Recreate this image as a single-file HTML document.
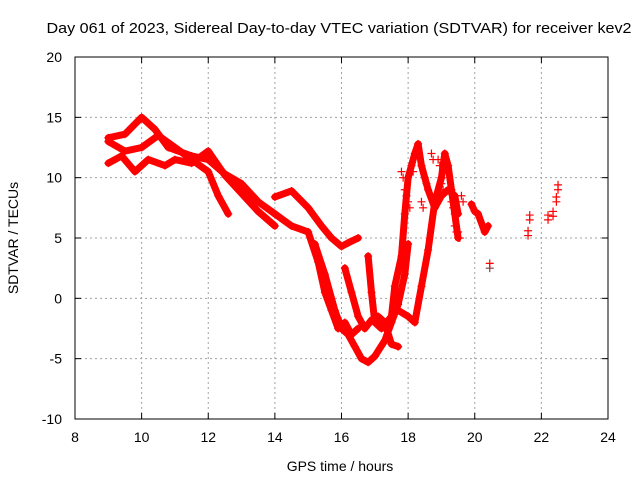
<!DOCTYPE html>
<html><head><meta charset="utf-8"><style>
body{margin:0;background:#fff;}
svg{display:block;font-family:"Liberation Sans",sans-serif;}
</style></head><body>
<svg id="chart" width="640" height="480">
<rect x="0" y="0" width="640" height="480" fill="#fff"/>
<text x="339" y="33" font-size="15" textLength="585" lengthAdjust="spacingAndGlyphs" text-anchor="middle" fill="#000">Day 061 of 2023, Sidereal Day-to-day VTEC variation (SDTVAR) for receiver kev2</text>
<text x="340" y="471" font-size="14" text-anchor="middle">GPS time / hours</text>
<text transform="translate(18,238) rotate(-90)" font-size="14" text-anchor="middle">SDTVAR / TECUs</text>
<g id="grid"></g><g id="ticks"></g><g id="series"></g>
<rect x="75" y="57" width="533" height="362" fill="none" stroke="#000" stroke-width="1"/>
</svg>
<script>
const xTicks=[8,10,12,14,16,18,20,22,24];
const yTicks=[-10,-5,0,5,10,15,20];
const trackA=[[9.0,13.3],[9.5,13.6],[10.0,15.0],[10.4,14.0],[10.8,12.5],[11.5,11.8],[12.0,11.5],[12.5,10.3],[13.0,9.5],[13.5,8.0],[14.0,7.0]];
const trackB=[[9.0,11.2],[9.4,11.8],[9.8,10.5],[10.2,11.5],[10.7,11.0],[11.0,11.5],[11.5,11.2],[12.0,12.2],[12.5,10.2],[13.0,8.7],[13.5,7.2],[14.0,6.0]];
const trackC=[[9.0,13.0],[9.5,12.2],[10.0,12.5],[10.5,13.5],[11.0,12.5],[11.5,11.5],[12.0,10.5],[12.3,8.5],[12.6,7.0]];
const trackD=[[14.0,8.4],[14.5,8.9],[15.0,7.5],[15.4,6.0],[15.7,5.0],[16.0,4.3],[16.2,4.6],[16.5,5.0]];
const trackE=[[14.0,7.0],[14.5,6.0],[15.0,5.5],[15.3,3.0],[15.5,0.5],[15.7,-1.0],[15.9,-2.5],[16.1,-2.0],[16.3,-3.0],[16.5,-2.5]];
const trackF=[[15.2,4.5],[15.5,2.0],[15.8,-1.0],[16.0,-2.5],[16.2,-3.0],[16.4,-4.0],[16.6,-5.0],[16.8,-5.3],[17.0,-4.8],[17.3,-3.5],[17.5,-2.0],[17.7,-0.5],[17.9,2.0],[18.0,4.5]];
const trackG=[[16.8,3.5],[16.9,0.5],[17.0,-2.0],[17.2,-2.5],[17.5,-1.5],[17.6,1.0],[17.8,3.5],[17.9,7.0],[18.0,10.0],[18.2,12.0],[18.3,12.8],[18.4,11.0],[18.6,9.0],[18.8,7.5],[19.0,8.5],[19.2,9.0],[19.4,8.5],[19.5,7.0]];
const trackH=[[16.1,2.5],[16.3,0.5],[16.5,-1.5],[16.7,-2.5],[16.9,-1.8],[17.1,-1.5],[17.3,-2.0],[17.5,-3.8],[17.7,-4.0]];
const trackI=[[17.7,-1.0],[18.0,-1.5],[18.2,-2.0],[18.4,1.0],[18.6,4.0],[18.8,8.0],[19.0,10.0],[19.1,12.0],[19.2,11.0],[19.3,9.0],[19.4,7.0],[19.5,5.0]];
const trackJ=[[19.9,7.8],[20.0,7.2],[20.1,7.0],[20.3,5.5],[20.4,6.0]];
const scatter=[[17.8,10.5],[18.0,8.0],[18.1,11.0],[18.5,10.0],[18.7,12.0],[18.9,11.5],[19.0,9.5],[19.3,8.0],[19.4,6.0],[18.4,8.0],[17.9,9.0],[19.6,8.5],[19.5,5.5]];
const isolated=[[20.45,2.5],[21.6,5.2],[21.65,6.5],[22.2,6.5],[22.35,6.8],[22.45,8.0],[22.5,9.0]];
const tracks=[trackA,trackB,trackC,trackD,trackE,trackF,trackG,trackH,trackI,trackJ];
const NS='http://www.w3.org/2000/svg';
const X=h=>75+(h-8)*533/16;
const Y=v=>57+(20-v)*362/30;
function mk(t,a){const e=document.createElementNS(NS,t);for(const k in a)e.setAttribute(k,a[k]);return e;}
const grid=document.getElementById('grid'),ticks=document.getElementById('ticks'),ser=document.getElementById('series');
xTicks.forEach(t=>{
 if(t>8&&t<24){const l=mk('line',{x1:X(t),x2:X(t),y1:57,y2:419,stroke:'#a0a0a0','stroke-dasharray':'2,3'});
 
 grid.appendChild(l);}
 const tx=mk('text',{x:X(t),y:442,'font-size':14,'text-anchor':'middle'});tx.textContent=t;
 
 ticks.appendChild(tx);
 ticks.appendChild(mk('line',{x1:X(t),x2:X(t),y1:419,y2:413,stroke:'#000'}));
 ticks.appendChild(mk('line',{x1:X(t),x2:X(t),y1:57,y2:63,stroke:'#000'}));
});
yTicks.forEach(t=>{
 if(t>-10&&t<20){const l=mk('line',{x1:75,x2:608,y1:Y(t),y2:Y(t),stroke:'#a0a0a0','stroke-dasharray':'2,3'});
 
 grid.appendChild(l);}
 const tx=mk('text',{x:62,y:Y(t)+5,'font-size':14,'text-anchor':'end'});tx.textContent=t;
 
 ticks.appendChild(tx);
 ticks.appendChild(mk('line',{x1:75,x2:81,y1:Y(t),y2:Y(t),stroke:'#000'}));
 ticks.appendChild(mk('line',{x1:608,x2:602,y1:Y(t),y2:Y(t),stroke:'#000'}));
});
function plus(h,v,col){const x=X(h),y=Y(v);
 const p=mk('path',{d:`M${x-4},${y}H${x+4}M${x},${y-4}V${y+4}`,stroke:col,'stroke-width':1.2});
 
 ser.appendChild(p);}
tracks.forEach(tr=>{
 const pl=mk('polyline',{points:tr.map(p=>X(p[0])+','+Y(p[1])).join(' '),fill:'none',stroke:'#ff0000','stroke-width':7,'stroke-linejoin':'round','stroke-linecap':'round'});
 
 ser.appendChild(pl);
 tr.forEach(p=>plus(p[0],p[1],'#ff0000'));
});
scatter.forEach(p=>{plus(p[0],p[1],'#ff0000');plus(p[0]+0.05,p[1]-0.5,'#ff0000');});
isolated.forEach((p,i)=>{plus(p[0],p[1],i===0?'#804040':'#ff0000');plus(p[0],p[1]+0.4,'#ff0000');});
</script>
</body></html>
